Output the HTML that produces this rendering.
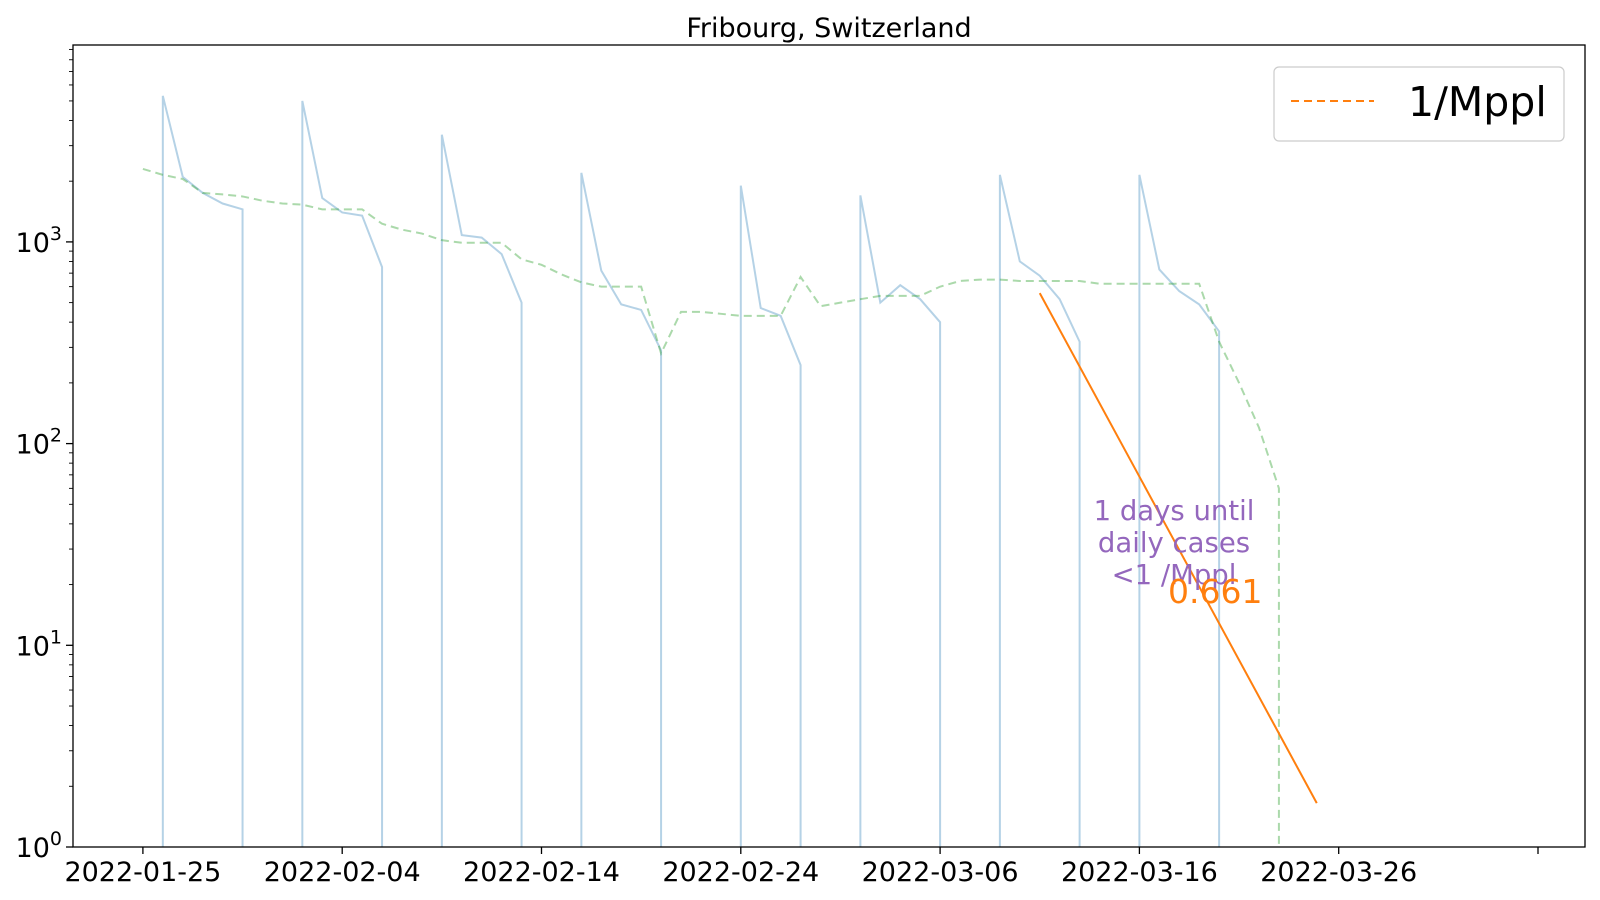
<!DOCTYPE html>
<html><head><meta charset="utf-8">
<style>
html,body{margin:0;padding:0;background:#fff;width:1600px;height:900px;overflow:hidden;}
svg{display:block;position:absolute;left:0;top:0;font-family:"DejaVu Sans","Liberation Sans",sans-serif;}
</style></head>
<body>
<svg id="chart" width="1600" height="900" viewBox="0 0 1600 900">
<defs><clipPath id="plotclip"><rect x="73" y="45" width="1512" height="802"/></clipPath></defs>
<text x="829" y="37" font-size="27" text-anchor="middle">Fribourg, Switzerland</text>
<g id="series" clip-path="url(#plotclip)"></g>
<rect x="73" y="45" width="1512" height="802" fill="none" stroke="#000" stroke-width="1.3"/>
<g id="axes"></g>
<text font-size="27.5" fill="#9467bd" text-anchor="middle"><tspan x="1174" y="520">1 days until</tspan><tspan x="1174" y="552">daily cases</tspan><tspan x="1174" y="584">&lt;1 /Mppl</tspan></text>
<text x="1168" y="603" font-size="33" fill="#ff7f0e">0.661</text>
<g>
<rect x="1274" y="67" width="290" height="74" rx="5" fill="#fff" stroke="#ccc" stroke-width="1.2"/>
<line x1="1291" y1="101" x2="1374" y2="101" stroke="#ff7f0e" stroke-width="2" stroke-dasharray="8,5"/>
<text x="1408" y="116" font-size="41">1/Mppl</text>
</g>
</svg>
<script>
const dailyCases=[0,5300,2100,1750,1550,1450,0,0,5000,1650,1400,1350,750,0,0,3400,1080,1050,870,500,0,0,2200,720,490,460,290,0,0,0,1900,470,430,245,0,0,1700,500,610,520,400,0,0,2150,800,680,520,320,0,0,2150,730,570,490,360,0];
const rollingAvg=[2300,2150,2050,1750,1720,1680,1600,1550,1530,1450,1450,1450,1230,1150,1100,1020,990,990,990,820,770,690,630,600,600,600,280,450,450,440,430,430,430,670,480,500,520,540,540,540,600,640,650,650,640,640,640,640,620,620,620,620,620,620,320,200,120,60,0];
const fitDays=[45,58.9];
const fitValues=[557,1.65];
const xTickLabels=["2022-01-25","2022-02-04","2022-02-14","2022-02-24","2022-03-06","2022-03-16","2022-03-26",""];
const yDecades=[0,1,2,3];

const X0=142.9,PX_DAY=19.93,YB=847,PX_DEC=201.7,YLOW=852;
function xs(d){return X0+d*PX_DAY;}
function ys(v){return YB-Math.log10(v)*PX_DEC;}
function pts(arr){const out=[];arr.forEach((v,i)=>{
 if(v>0){out.push(xs(i)+','+ys(v));}
 else{ if(i>0&&arr[i-1]>0)out.push(xs(i-1)+','+YLOW);
       if(i<arr.length-1&&arr[i+1]>0)out.push(xs(i+1)+','+YLOW);}
});return out.join(' ');}
const NS="http://www.w3.org/2000/svg";
function mk(tag,attrs,parent){const e=document.createElementNS(NS,tag);for(const k in attrs)e.setAttribute(k,attrs[k]);parent.appendChild(e);return e;}
const series=document.getElementById('series'),axes=document.getElementById('axes');

let p=mk('polyline',{points:pts(dailyCases),fill:'none',stroke:'#1f77b4','stroke-opacity':0.33,'stroke-width':2},series);


let g=mk('polyline',{points:pts(rollingAvg),fill:'none',stroke:'#2ca02c','stroke-opacity':0.4,'stroke-width':2,'stroke-dasharray':'8,5'},series);


let f=mk('line',{x1:xs(fitDays[0]),y1:ys(fitValues[0]),x2:xs(fitDays[1]),y2:ys(fitValues[1]),stroke:'#ff7f0e','stroke-width':2},series);



xTickLabels.forEach((l,i)=>{const x=xs(i*10);
 const t=mk('line',{x1:x,y1:847,x2:x,y2:854,stroke:'#000','stroke-width':1.3},axes);
 
 
 if(l){const tx=mk('text',{x:x,y:881,'font-size':27,'text-anchor':'middle'},axes);tx.textContent=l;
 
 }
});
yDecades.forEach(d=>{const y=ys(Math.pow(10,d));
 const t=mk('line',{x1:66,y1:y,x2:73,y2:y,stroke:'#000','stroke-width':1.3},axes);
 
 
 const tx=mk('text',{x:62,y:y+10,'font-size':27,'text-anchor':'end'},axes);
 tx.innerHTML='10<tspan dy="-12" font-size="19">'+d+'</tspan>';
 
 
 for(let m=2;m<=9;m++){const yy=ys(m*Math.pow(10,d)); if(yy<45)break;
  mk('line',{x1:69,y1:yy,x2:73,y2:yy,stroke:'#000','stroke-width':0.9},axes);}
});
</script>
</body></html>
